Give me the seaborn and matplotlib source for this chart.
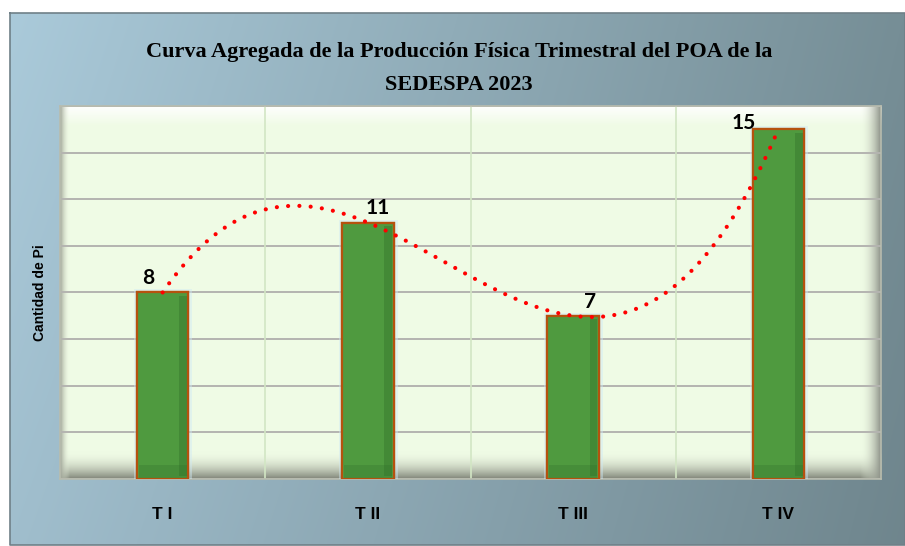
import numpy as np
import pandas as pd
import matplotlib
matplotlib.use("Agg")
import matplotlib.pyplot as plt
import matplotlib.patheffects as pe
import seaborn as sns

# Data
quarters = ["T I", "T II", "T III", "T IV"]
quantities = [8, 11, 7, 15]

title = "Curva Agregada de la Producción Física Trimestral del POA de la\nSEDESPA 2023"
y_label = "Cantidad de Pi"

df = pd.DataFrame({"trimestre": quarters, "cantidad": quantities})

sns.set_theme(style="white")
plt.rcParams["font.family"] = ["Liberation Sans", "DejaVu Sans"]

fig = plt.figure(figsize=(9.05, 5.46), dpi=100)
fig.patch.set_facecolor("white")

# chart frame background (blue-grey gradient)
bg = fig.add_axes([0, 0, 1, 1], zorder=-10)
bg.set_xlim(0, 905)
bg.set_ylim(546, 0)
bg.axis("off")
xs = np.linspace(0, 1, 200)
ys = np.linspace(0, 1, 120)
left_c = np.array([170, 202, 218]) / 255
right_c = np.array([118, 142, 150]) / 255
grad = left_c[None, None, :] * (1 - xs[None, :, None]) + right_c[None, None, :] * xs[None, :, None]
shade = 1 - 0.06 * ys[:, None, None]
grad = np.clip(grad * shade, 0, 1)
bg.imshow(grad, extent=[10, 905, 545, 13], aspect="auto", interpolation="bicubic")
bg.plot([10, 905, 905, 10, 10], [13, 13, 545, 545, 13], color="#6f8088", lw=1.2)

# plot area
ax = fig.add_axes([0.0663, 0.1227, 0.9072, 0.6832])
ax.set_facecolor("#effbe5")

# bevel bands inside plot area
def band(extent, c0, c1, vertical=True):
    t = np.linspace(0, 1, 64)
    c0 = np.array(matplotlib.colors.to_rgba(c0))
    c1 = np.array(matplotlib.colors.to_rgba(c1))
    g = c0[None, :] * (1 - t[:, None]) + c1[None, :] * t[:, None]
    img = g[:, None, :] if vertical else g[None, :, :]
    ax.imshow(img, extent=extent, aspect="auto", transform=ax.transAxes,
              zorder=0.5, origin="lower", interpolation="bilinear")

band([0, 1, 0, 0.075], "#7f8477", (0.94, 0.98, 0.9, 0.0))
band([0, 1, 0.945, 1], (1, 1, 1, 0.0), "#ffffff")
band([0.975, 1, 0, 1], (0.94, 0.98, 0.9, 0.0), "#8d9288", vertical=False)
band([0, 0.012, 0, 1], "#9ea396", (0.94, 0.98, 0.9, 0.0), vertical=False)

sns.barplot(data=df, x="trimestre", y="cantidad", ax=ax, color="#4f9a3f",
            width=0.25, edgecolor="#b5520e", linewidth=1.6, saturation=1, zorder=3)
for p in ax.patches:
    p.set_path_effects([pe.withStroke(linewidth=5, foreground="#cfe9f5", alpha=0.45), pe.Normal()])
    # darker right-hand bevel on each bar
    x0, w, h = p.get_x(), p.get_width(), p.get_height()
    ax.fill_between([x0 + w * 0.82, x0 + w * 0.97], 0.15, h - 0.15,
                    color="#2f6a28", alpha=0.35, lw=0, zorder=3.5)
    ax.fill_between([x0 + w * 0.03, x0 + w * 0.97], 0.05, 0.6,
                    color="#2f6a28", alpha=0.25, lw=0, zorder=3.5)

# 3rd-order polynomial trendline through the data
xpos = np.arange(len(quantities))
coef = np.polyfit(xpos, quantities, 3)
xx = np.linspace(0, len(quantities) - 1, 300)
ax.plot(xx, np.polyval(coef, xx), color="#ff0000", lw=3.0,
        linestyle=(0, (0.01, 2.7)), dash_capstyle="round", zorder=4)

# data labels (offsets in points, as placed in the original)
label_offsets = [(-10, 3), (7, 3), (12, 3), (-25, -3)]
for i, v in enumerate(quantities):
    ax.annotate(str(v), (i, v), xytext=label_offsets[i], textcoords="offset points",
                ha="center", va="bottom", fontsize=15, fontweight="bold",
                family=["Lato", "DejaVu Sans"], color="black", zorder=5)

ax.set_ylim(0, 16)
ax.set_xlim(-0.5, 3.5)
ax.set_yticks(np.arange(0, 17, 2))
ax.set_yticklabels([])
ax.grid(axis="y", color="#b4b4b0", lw=1.4, zorder=1)
ax.set_axisbelow(True)
for b in [0.5, 1.5, 2.5]:
    ax.axvline(b, color="#d2e6c4", lw=1.2, zorder=1)
ax.set_xlabel("")
ax.set_ylabel(y_label, fontsize=10, fontweight="bold", labelpad=6, color="black")
ax.tick_params(axis="x", length=0, pad=20, labelsize=12.5, labelcolor="black")
ax.tick_params(axis="y", length=0)
for lbl in ax.get_xticklabels():
    lbl.set_fontweight("bold")
for s in ax.spines.values():
    s.set_color("#b8bcae")
    s.set_linewidth(1.2)

fig.text(0.507, 0.875, title, ha="center", va="center", fontsize=16,
         fontweight="bold", family=["Liberation Serif", "DejaVu Serif"],
         linespacing=1.85, color="black")

fig.savefig("out.png", dpi=100)
